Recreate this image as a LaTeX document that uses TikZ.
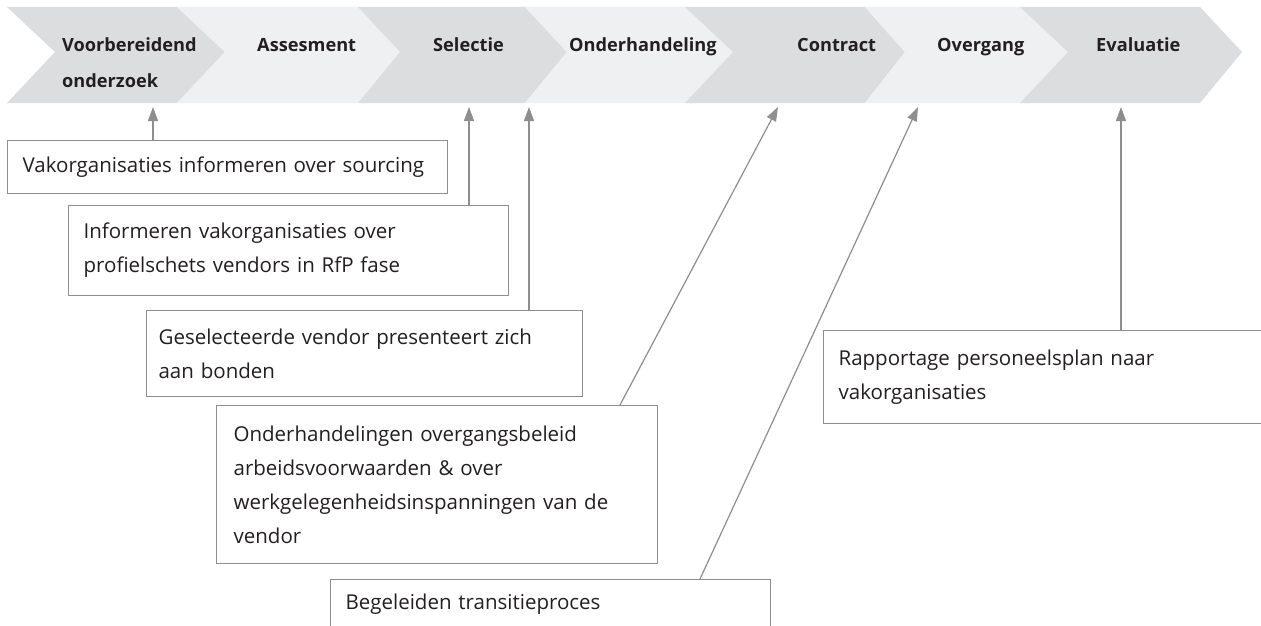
\documentclass[tikz,border=0pt]{standalone}
\usepackage{fontspec}
\setmainfont{Open Sans}
\usetikzlibrary{arrows.meta}

\definecolor{phasedark}{HTML}{DCDDDF}
\definecolor{phaselight}{HTML}{EFF0F2}
\definecolor{linegray}{HTML}{8E8E8E}
\definecolor{inkgray}{HTML}{231F20}

\tikzset{
	phase/.style={font=\bfseries\fontsize{18.2}{36}\selectfont, text=inkgray, anchor=base west, inner sep=0pt, align=left},
	actbox/.style={draw=linegray, line width=1.2pt, fill=white, anchor=north west, inner xsep=15pt, inner ysep=0pt,
		text width=410pt, align=left, font=\fontsize{20.5}{34}\selectfont, text=inkgray},
	link/.style={draw=linegray, line width=1.2pt, -{Triangle[length=14pt,width=10pt]}},
}

\begin{document}
\begin{tikzpicture}[x=1pt,y=-1pt]
	\path[use as bounding box, clip] (0,0) rectangle (1261,626);
	\fill[white] (0,0) rectangle (1261,626);

	% phases
	\fill[phasedark]  (7,7) -- (177,7) -- (225,52) -- (177,103) -- (7,103) -- (55,52) -- cycle;
	\fill[phaselight] (177,7) -- (358,7) -- (400,52) -- (358,103) -- (177,103) -- (225,52) -- cycle;
	\fill[phasedark]  (358,7) -- (525,7) -- (567,52) -- (525,103) -- (358,103) -- (400,52) -- cycle;
	\fill[phaselight] (525,7) -- (685,7) -- (733,52) -- (685,103) -- (525,103) -- (567,52) -- cycle;
	\fill[phasedark]  (685,7) -- (865,7) -- (905,52) -- (865,103) -- (685,103) -- (733,52) -- cycle;
	\fill[phaselight] (865,7) -- (1020,7) -- (1068,52) -- (1020,103) -- (865,103) -- (905,52) -- cycle;
	\fill[phasedark]  (1020,7) -- (1200,7) -- (1242,52) -- (1200,103) -- (1020,103) -- (1068,52) -- cycle;

	\node[phase, anchor=west] (p1) at (62,63) {Voorbereidend\\onderzoek};
	\node[phase] (p2) at (257,51.5) {Assesment};
	\node[phase] (p3) at (433,51.5) {Selectie};
	\node[phase] (p4) at (569,51.5) {Onderhandeling};
	\node[phase] (p5) at (797,51.5) {Contract};
	\node[phase] (p6) at (937,51.5) {Overgang};
	\node[phase] (p7) at (1096,51.5) {Evaluatie};

	% arrow tips under the phases
	\coordinate (t1) at (153,107);
	\coordinate (t2) at (469,107);
	\coordinate (t3) at (529,107);
	\coordinate (t4) at (778,107);
	\coordinate (t5) at (918,107);
	\coordinate (t6) at (1121,107);

	% activities
	\node[actbox, minimum height=53pt] (b1) at (7,140) {Vakorganisaties informeren over sourcing};
	\node[actbox, minimum height=90pt] (b2) at (68,205) {Informeren vakorganisaties over\\profielschets vendors in RfP fase};
	\node[actbox, minimum height=86pt, text width=412pt, inner xsep=12pt] (b3) at (146,310) {Geselecteerde vendor presenteert zich\\aan bonden};
	\node[actbox, minimum height=158pt, text width=407pt, inner xsep=17pt] (b4) at (216,405) {Onderhandelingen overgangsbeleid\\arbeidsvoorwaarden \& over\\werkgelegenheidsinspanningen van de\\vendor};
	\node[actbox, minimum height=50pt] (b5) at (330,579) {Begeleiden transitieproces};
	\node[actbox, minimum height=93pt] (b6) at (823,330) {Rapportage personeelsplan naar\\vakorganisaties};

	\draw[link] (b1.north -| t1) -- (t1);
	\draw[link] (b2.north -| t2) -- (t2);
	\draw[link] (b3.north -| t3) -- (t3);
	\draw[link] ([xshift=404pt]b4.north west) -- (t4);
	\draw[link] ([xshift=370pt]b5.north west) -- (t5);
	\draw[link] (b6.north -| t6) -- (t6);

\end{tikzpicture}
\end{document}
